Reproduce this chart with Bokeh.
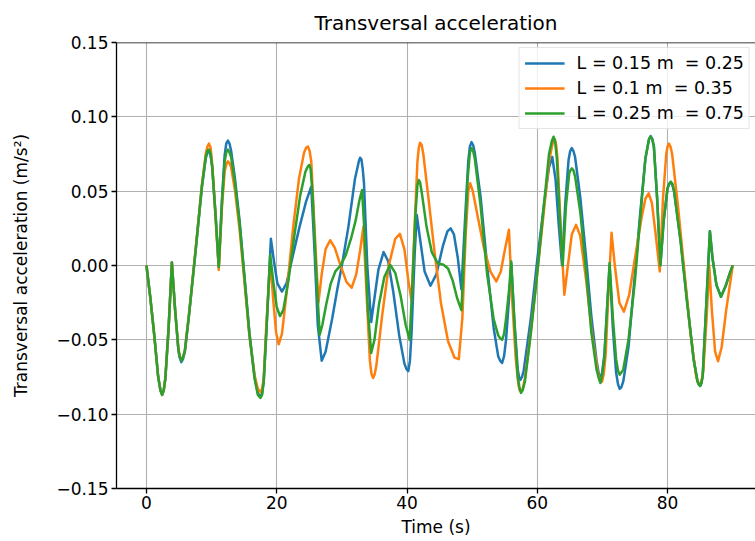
from bokeh.plotting import figure
from bokeh.models import Range1d, FixedTicker, CustomJSTickFormatter, Span
from bokeh.embed import file_html
from bokeh.resources import INLINE

# ---- data (time in s, acceleration) ----
t_blue = [0, 0.6, 1.2, 1.8, 2.15, 2.4, 2.65, 2.9, 3.4, 3.9,
          4.4, 4.9, 5.1, 5.35, 5.6, 5.9, 6.5, 7.5, 8.5, 9.1,
          9.35, 9.6, 9.85, 10.1, 10.6, 11.1, 11.6, 12.0, 12.25, 12.5,
          12.75, 13.0, 13.6, 14.3, 15.0, 15.8, 16.6, 17.1, 17.5, 17.75,
          18.0, 18.4, 19.1, 19.6, 20.1, 20.8, 21.5, 22.5, 23.5, 24.5,
          25.3, 25.8, 26.3, 26.9, 27.5, 28.5, 29.3, 30.0, 31.0, 32.0,
          32.6, 32.8, 33.0, 33.2, 33.4, 33.9, 34.5, 35.0, 35.6, 36.4,
          37.1, 37.9, 38.8, 39.6, 39.9, 40.2, 40.45, 40.7, 41.2, 41.5,
          42.0, 42.7, 43.6, 44.5, 45.5, 46.2, 46.7, 47.2, 47.8, 48.35,
          48.9, 49.4, 49.65, 49.9, 50.15, 50.4, 51.3, 52.3, 53.3, 54.0,
          54.3, 54.6, 54.9, 55.2, 55.7, 56.0, 56.5, 57.0, 57.2, 57.4,
          57.65, 57.9, 59.0, 60.0, 61.0, 61.8, 62.3, 62.8, 63.3, 63.8,
          64.3, 64.8, 65.05, 65.3, 65.55, 65.8, 66.6, 67.5, 68.3, 69.1,
          69.45, 69.7, 69.95, 70.3, 70.7, 71.1, 71.6, 72.1, 72.4, 72.65,
          72.9, 73.2, 74.0, 75.0, 75.8, 76.6, 77.15, 77.4, 77.65, 77.9,
          78.4, 78.9, 79.4, 80.0, 80.25, 80.5, 80.75, 81.0, 82.0, 83.0,
          84.0, 84.6, 84.8, 85.0, 85.2, 85.4, 85.9, 86.5, 86.9, 87.5,
          88.2, 88.9, 89.5, 90.0]
a_blue = [0, -0.022, -0.047, -0.075, -0.084, -0.087, -0.084, -0.076, -0.042, 0.002,
          -0.03, -0.057, -0.062, -0.065, -0.063, -0.058, -0.035, 0.008, 0.052, 0.072,
          0.076, 0.077, 0.074, 0.066, 0.035, -0.001, 0.045, 0.074, 0.082, 0.084,
          0.082, 0.077, 0.058, 0.03, -0.005, -0.045, -0.075, -0.086, -0.088, -0.086,
          -0.078, -0.045, 0.018, 0.002, -0.012, -0.0175, -0.012, 0.007, 0.026, 0.043,
          0.053, 0.01, -0.04, -0.064, -0.058, -0.036, -0.016, 0.0, 0.026, 0.058,
          0.070, 0.0725, 0.0715, 0.065, 0.055, 0.0, -0.038, -0.022, -0.003, 0.009,
          0.003, -0.018, -0.047, -0.066, -0.0695, -0.071, -0.064, -0.045, 0.01, 0.034,
          0.018, -0.004, -0.0136, -0.006, 0.013, 0.023, 0.025, 0.021, 0.005, -0.016,
          0.03, 0.07, 0.080, 0.083, 0.081, 0.076, 0.046, 0.0, -0.042, -0.061,
          -0.064, -0.0656, -0.061, -0.05, -0.02, 0.0015, -0.038, -0.07, -0.075, -0.077,
          -0.075, -0.071, -0.036, 0.004, 0.04, 0.066, 0.073, 0.058, 0.027, 0.0,
          0.042, 0.071, 0.077, 0.079, 0.077, 0.073, 0.046, 0.005, -0.034, -0.064,
          -0.073, -0.076, -0.072, -0.06, -0.03, 0.0, -0.042, -0.072, -0.080, -0.083,
          -0.082, -0.078, -0.055, -0.005, 0.035, 0.072, 0.085, 0.087, 0.085, 0.08,
          0.045, 0.0, 0.03, 0.052, 0.055, 0.056, 0.054, 0.05, 0.017, -0.024,
          -0.063, -0.078, -0.080, -0.081, -0.079, -0.074, -0.03, 0.023, 0.005, -0.013,
          -0.021, -0.014, -0.006, 0.0]

t_orange = [0, 0.6, 1.2, 1.8, 2.15, 2.4, 2.65, 2.9, 3.4, 3.9,
            4.4, 4.9, 5.1, 5.35, 5.6, 5.9, 6.5, 7.5, 8.5, 9.1,
            9.35, 9.6, 9.85, 10.1, 10.6, 11.1, 11.6, 12.0, 12.25, 12.5,
            12.75, 13.0, 13.6, 14.3, 15.0, 15.8, 16.6, 17.1, 17.5, 17.75,
            18.0, 18.4, 19.0, 19.5, 19.9, 20.3, 20.8, 21.6, 22.5, 23.4,
            24.2, 24.55, 24.8, 25.05, 25.3, 25.8, 26.4, 26.9, 27.5, 28.2,
            28.9, 29.8, 30.7, 31.5, 32.2, 32.8, 33.3, 33.8, 34.3, 34.55,
            34.8, 35.05, 35.3, 36.2, 37.2, 38.2, 38.9, 39.6, 40.2, 40.7,
            41.2, 41.6, 41.8, 42.0, 42.25, 42.5, 43.3, 44.2, 45.2, 46.3,
            47.3, 47.95, 48.5, 49.0, 49.4, 49.7, 50.1, 50.9, 51.8, 52.8,
            53.7, 54.4, 55.0, 55.65, 56.1, 56.7, 57.1, 57.3, 57.5, 57.75,
            58.1, 59.0, 60.0, 61.0, 61.8, 62.3, 62.5, 62.7, 62.9, 63.1,
            63.6, 64.15, 64.7, 65.3, 65.95, 66.6, 67.5, 68.4, 69.3, 69.65,
            69.95, 70.2, 70.5, 70.9, 71.4, 71.9, 72.6, 73.3, 74.1, 75.0,
            76.0, 76.6, 77.1, 77.6, 78.2, 78.8, 79.3, 79.8, 80.0, 80.2,
            80.45, 80.7, 81.6, 82.5, 83.5, 84.4, 84.75, 85.0, 85.25, 85.5,
            86.0, 86.4, 86.8, 87.3, 87.75, 88.3, 89.0, 90.0]
a_orange = [0, -0.022, -0.047, -0.075, -0.084, -0.087, -0.084, -0.076, -0.042, 0.002,
            -0.03, -0.056, -0.061, -0.063, -0.062, -0.057, -0.034, 0.009, 0.054, 0.075,
            0.080, 0.082, 0.079, 0.068, 0.033, -0.003, 0.04, 0.063, 0.068, 0.070,
            0.069, 0.066, 0.05, 0.024, -0.009, -0.047, -0.074, -0.083, -0.085, -0.083,
            -0.076, -0.04, 0.003, -0.025, -0.045, -0.053, -0.046, -0.015, 0.025, 0.058,
            0.076, 0.0795, 0.080, 0.077, 0.07, 0.025, -0.025, -0.006, 0.011, 0.017,
            0.012, 0.0, -0.011, -0.015, -0.006, 0.01, 0.026, -0.02, -0.064, -0.073,
            -0.0756, -0.073, -0.067, -0.033, 0.0, 0.018, 0.0213, 0.011, -0.01, -0.024,
            0.03, 0.07, 0.079, 0.0826, 0.081, 0.075, 0.045, 0.01, -0.025, -0.051,
            -0.062, -0.063, -0.035, 0.02, 0.05, 0.0553, 0.05, 0.032, 0.012, -0.004,
            -0.0107, -0.004, 0.01, 0.024, -0.02, -0.063, -0.08, -0.084, -0.085, -0.083,
            -0.076, -0.045, -0.005, 0.036, 0.07, 0.081, 0.085, 0.085, 0.081, 0.072,
            0.025, -0.0197, 0.0, 0.021, 0.0273, 0.02, -0.01, -0.046, -0.072, -0.077,
            -0.078, -0.073, -0.06, -0.02, 0.022, 0.0, -0.025, -0.031, -0.02, 0.005,
            0.032, 0.045, 0.0485, 0.042, 0.02, -0.004, 0.045, 0.075, 0.080, 0.082,
            0.080, 0.075, 0.04, 0.0, -0.045, -0.075, -0.079, -0.08, -0.077, -0.07,
            -0.035, 0.0, -0.03, -0.058, -0.0644, -0.055, -0.03, 0.0]

t_green = [0, 0.6, 1.2, 1.8, 2.15, 2.4, 2.65, 2.9, 3.4, 3.9,
           4.4, 4.9, 5.1, 5.35, 5.6, 5.9, 6.5, 7.5, 8.5, 9.1,
           9.35, 9.6, 9.85, 10.1, 10.6, 11.1, 11.6, 12.0, 12.25, 12.5,
           12.75, 13.0, 13.6, 14.3, 15.0, 15.8, 16.6, 17.1, 17.5, 17.75,
           18.0, 18.4, 19.0, 19.5, 20.0, 20.5, 21.0, 21.8, 22.7, 23.6,
           24.4, 24.75, 25.0, 25.2, 25.5, 26.0, 26.6, 27.0, 27.6, 28.3,
           29.0, 29.8, 30.6, 31.4, 32.1, 32.7, 33.1, 33.5, 34.0, 34.5,
           35.0, 35.7, 36.5, 37.4, 38.2, 39.0, 39.8, 40.4, 40.8, 41.3,
           41.6, 41.8, 42.0, 42.3, 43.0, 43.8, 44.7, 45.6, 46.3, 47.0,
           47.7, 48.35, 48.8, 49.3, 49.65, 49.9, 50.15, 50.4, 51.3, 52.3,
           53.3, 54.0, 54.3, 54.6, 54.9, 55.2, 55.7, 56.0, 56.5, 57.0,
           57.3, 57.5, 57.75, 58.1, 59.0, 60.0, 61.0, 61.8, 62.25, 62.5,
           62.75, 63.0, 63.5, 63.9, 64.4, 64.9, 65.1, 65.3, 65.55, 65.8,
           66.6, 67.5, 68.3, 69.1, 69.45, 69.7, 69.95, 70.3, 70.7, 71.1,
           71.6, 72.1, 72.4, 72.65, 72.9, 73.2, 74.0, 75.0, 75.8, 76.6,
           77.15, 77.4, 77.65, 77.9, 78.4, 78.9, 79.4, 80.0, 80.25, 80.5,
           80.75, 81.0, 82.0, 83.0, 84.0, 84.6, 84.8, 85.0, 85.2, 85.4,
           85.9, 86.5, 86.9, 87.5, 88.2, 88.9, 89.5, 90.0]
a_green = [0, -0.022, -0.047, -0.075, -0.084, -0.087, -0.084, -0.076, -0.042, 0.002,
           -0.03, -0.056, -0.061, -0.064, -0.062, -0.057, -0.034, 0.008, 0.053, 0.073,
           0.077, 0.078, 0.075, 0.066, 0.034, -0.001, 0.043, 0.07, 0.076, 0.078,
           0.076, 0.073, 0.055, 0.028, -0.006, -0.046, -0.076, -0.087, -0.089, -0.087,
           -0.078, -0.045, 0.007, -0.012, -0.028, -0.034, -0.03, -0.01, 0.02, 0.047,
           0.063, 0.0665, 0.0676, 0.065, 0.048, 0.0, -0.0465, -0.04, -0.026, -0.012,
           -0.004, 0.0, 0.007, 0.018, 0.03, 0.044, 0.0508, 0.02, -0.03, -0.0589,
           -0.05, -0.026, -0.008, 0.0005, -0.005, -0.02, -0.04, -0.05, -0.015, 0.035,
           0.054, 0.0575, 0.056, 0.048, 0.026, 0.009, 0.0016, 0.0005, -0.002, -0.01,
           -0.022, -0.03, 0.01, 0.058, 0.076, 0.079, 0.077, 0.072, 0.04, -0.006,
           -0.036, -0.047, -0.049, -0.05, -0.046, -0.036, -0.015, 0.0027, -0.04, -0.075,
           -0.083, -0.0857, -0.084, -0.078, -0.046, -0.005, 0.04, 0.075, 0.084, 0.0866,
           0.083, 0.072, 0.03, 0.0, 0.04, 0.062, 0.064, 0.0653, 0.064, 0.06,
           0.036, -0.004, -0.045, -0.07, -0.076, -0.079, -0.074, -0.062, -0.03, 0.0016,
           -0.035, -0.063, -0.071, -0.0734, -0.072, -0.07, -0.05, -0.01, 0.032, 0.072,
           0.085, 0.0866, 0.085, 0.08, 0.045, 0.0, 0.03, 0.052, 0.055, 0.0564,
           0.055, 0.05, 0.016, -0.025, -0.063, -0.078, -0.080, -0.081, -0.079, -0.074,
           -0.03, 0.023, 0.005, -0.013, -0.021, -0.014, -0.006, 0.0]

labels = ["L = 0.15 m  = 0.25", "L = 0.1 m  = 0.35", "L = 0.25 m  = 0.75"]
colors = ["#1f77b4", "#ff7f0e", "#2ca02c"]
x_ticks = [0, 20, 40, 60, 80]
y_ticks = [-0.15, -0.1, -0.05, 0, 0.05, 0.1, 0.15]

series = [(t_blue, a_blue), (t_orange, a_orange), (t_green, a_green)]
for tt, aa in series:
    assert len(tt) == len(aa), (len(tt), len(aa))

FONT = "DejaVu Sans"

p = figure(width=755, height=541, x_range=Range1d(-4.6, 93.5), y_range=Range1d(-0.15, 0.15),
           output_backend="svg", toolbar_location=None,
           min_border_left=116, min_border_right=0, min_border_top=41, min_border_bottom=53,
           outline_line_color=None, background_fill_color="white", border_fill_color="white")

p.title.text = "Transversal acceleration"
p.title.align = "center"
p.title.text_font = FONT
p.title.text_font_size = "20px"
p.title.text_font_style = "normal"
p.title.text_color = "black"
p.title.standoff = 16

for (tt, aa), lab, col in zip(series, labels, colors):
    p.line(tt, aa, line_color=col, line_width=2.5, line_join="round", legend_label=lab)

p.add_layout(Span(location=0.15, dimension="width", line_color="black", line_width=1.3))

for ax in (p.xaxis[0], p.yaxis[0]):
    ax.axis_line_color = "black"
    ax.axis_line_width = 1.3
    ax.major_tick_line_color = "black"
    ax.major_tick_line_width = 1.3
    ax.major_tick_in = 0
    ax.major_tick_out = 5
    ax.minor_tick_line_color = None
    ax.major_label_text_font = FONT
    ax.major_label_text_font_size = "17px"
    ax.major_label_text_color = "black"
    ax.axis_label_text_font = FONT
    ax.axis_label_text_font_size = "17px"
    ax.axis_label_text_font_style = "normal"
    ax.axis_label_text_color = "black"

p.xaxis.ticker = FixedTicker(ticks=x_ticks)
p.yaxis.ticker = FixedTicker(ticks=y_ticks)
p.yaxis.formatter = CustomJSTickFormatter(
    code="var v = Math.abs(tick) < 1e-9 ? 0 : tick; return (v < 0 ? '\u2212' : '') + Math.abs(v).toFixed(2);")
p.xaxis.major_label_standoff = 2
p.xaxis.axis_label_standoff = 5
p.yaxis.major_label_standoff = 3
p.yaxis.axis_label_standoff = 22
p.xaxis.axis_label = "Time (s)"
p.yaxis.axis_label = "Transversal acceleration (m/s\u00b2)"

p.xgrid.grid_line_color = "#b0b0b0"
p.ygrid.grid_line_color = "#b0b0b0"
p.xgrid.grid_line_width = 1.1
p.ygrid.grid_line_width = 1.1

lg = p.legend[0]
lg.location = "top_right"
lg.margin = 5
lg.padding = 5
lg.spacing = 5
lg.glyph_width = 40
lg.glyph_height = 20
lg.label_height = 20
lg.label_standoff = 12
lg.label_text_font = FONT
lg.label_text_font_size = "17.5px"
lg.label_text_color = "black"
lg.border_line_color = "#cccccc"
lg.border_line_width = 1
lg.background_fill_alpha = 0.8

open("out.html", "w").write(file_html(p, INLINE))
